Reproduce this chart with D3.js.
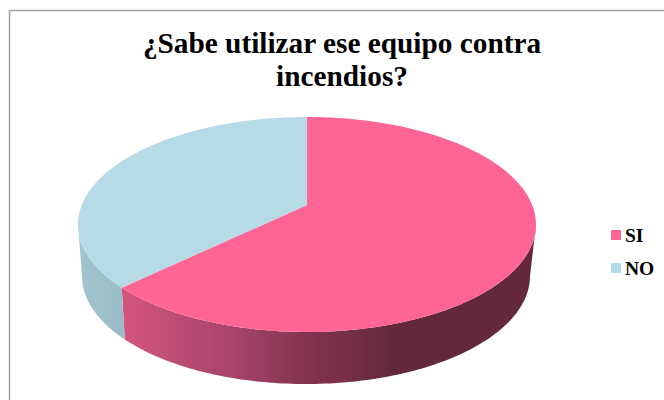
<!DOCTYPE html>
<html><head><meta charset="utf-8">
<script src="https://cdn.jsdelivr.net/npm/d3@7"></script>
<style>html,body{margin:0;padding:0;background:#fff}svg{display:block}</style>
</head><body><svg id="c" width="664" height="400"></svg>
<script>
const categories = ["SI", "NO"];
const values = [65, 35];
const colors = ["#FE6595", "#B6DBE6"];
const titleLines = ["¿Sabe utilizar ese equipo contra", "incendios?"];

const svg = d3.select("#c");
const top_ = {cx: 307, cy: 224.5, rx: 229, ry: 107.5};
const bot = {cx: 306, cy: 276, rx: 224, ry: 108};
const apex = [307, 205];
const pie = d3.pie().sort(null).value(d => d)(values);

const pt = (e, a) => [e.cx + e.rx * Math.sin(a), e.cy - e.ry * Math.cos(a)];
const sample = (e, a0, a1) => d3.range(0, 121).map(i => pt(e, a0 + (a1 - a0) * i / 120));
const line = d3.line();

svg.append("path").attr("d", "M9.5,400V10.5H664").attr("fill", "none").attr("stroke", "#A3A3A3").attr("stroke-width", 1.5);

const defs = svg.append("defs");
function grad(id, stops, x1, x2) {
  const g = defs.append("linearGradient").attr("id", id).attr("gradientUnits", "userSpaceOnUse")
    .attr("x1", x1).attr("x2", x2).attr("y1", 0).attr("y2", 0);
  stops.forEach(s => g.append("stop").attr("offset", s[0]).attr("stop-color", s[1]));
}
grad("sidePink", [[0, "#D4557F"], [0.42, "#A5446A"], [0.64, "#883552"], [1, "#63283C"]], 122, 395);
grad("sideBlue", [[0, "#A2C4CF"], [1, "#9ABCC7"]], 80, 126);

const wall = (a0, a1) => {
  const t = sample(top_, a0, a1), b = sample(bot, a1, a0);
  return line(t.concat(b)) + "Z";
};
const r = Math.PI / 2;
svg.append("path").attr("d", wall(r, pie[0].endAngle)).attr("fill", "url(#sidePink)");
svg.append("path").attr("d", wall(pie[1].startAngle, 3 * r)).attr("fill", "url(#sideBlue)");

pie.forEach((d, i) => {
  svg.append("path")
    .attr("d", line([apex].concat(sample(top_, d.startAngle, d.endAngle))) + "Z")
    .attr("fill", colors[i]);
});

svg.append("g").selectAll("text").data(titleLines).join("text")
  .attr("x", 342).attr("y", (d, i) => 53 + i * 33)
  .attr("text-anchor", "middle")
  .attr("font-family", "'Liberation Serif'").attr("font-weight", "bold").attr("font-size", 29.3)
  .attr("fill", "#000").text(d => d);

const ly = d3.scalePoint().domain(categories).range([235, 268]);
const lg = svg.append("g").selectAll("g").data(categories).join("g")
  .attr("transform", d => `translate(611,${ly(d)})`);
lg.append("rect").attr("x", 0).attr("y", -5).attr("width", 10).attr("height", 10)
  .attr("fill", (d, i) => colors[i]);
lg.append("text").attr("x", 14).attr("y", 6.5)
  .attr("font-family", "'Liberation Serif'").attr("font-weight", "bold").attr("font-size", 19.5)
  .attr("fill", "#000").text(d => d);
</script></body></html>
